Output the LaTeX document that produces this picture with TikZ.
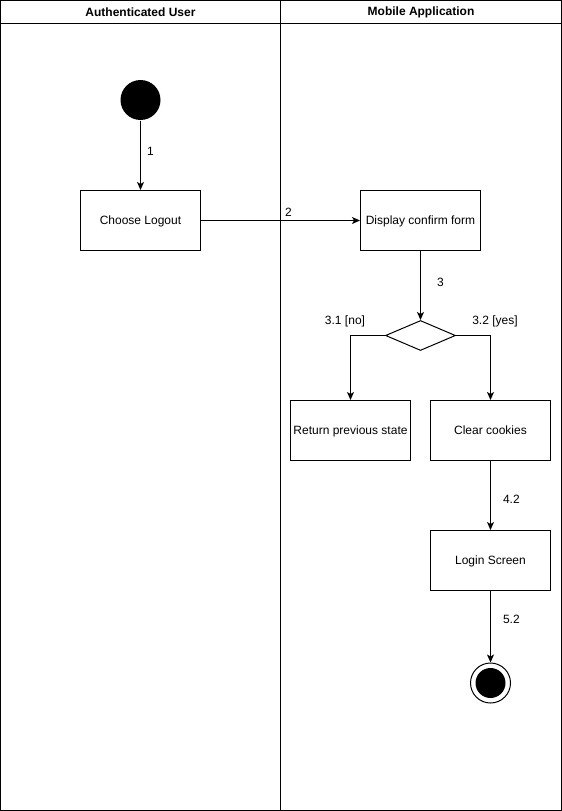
\documentclass[tikz,border=0pt]{standalone}
\usepackage{fontspec}
\setmainfont{Liberation Sans}
\usetikzlibrary{arrows.meta,shapes.geometric}
\begin{document}
\begin{tikzpicture}[x=1pt,y=-1pt,
  line width=1pt,
  every node/.style={font=\fontsize{12}{14}\selectfont},
  actbox/.style={draw,rectangle,minimum width=120pt,minimum height=60pt,inner sep=0pt,text depth=-1pt},
  decision/.style={draw,diamond,aspect=2.33,minimum width=70pt,minimum height=30pt,inner sep=0pt},
  flow/.style={-{Stealth[length=8pt,width=7pt,inset=2pt]}},
  elabel/.style={font=\fontsize{12}{14}\selectfont,inner sep=0pt},
  lanehead/.style={font=\bfseries\fontsize{12}{14}\selectfont}
]
\useasboundingbox (0,0) rectangle (562,811);
\fill[white] (0,0) rectangle (562,811);

% swimlanes
\draw (0.5,0.5) rectangle (561.5,810.5);
\draw (0.5,23.5) -- (561.5,23.5);
\draw (280.5,0.5) -- (280.5,810.5);
\node[lanehead] (laneU) at (140.5,12.5) {Authenticated User};
\node[lanehead] (laneM) at (421,12.5) {Mobile Application};

% nodes
\node[circle,fill=black,minimum size=40pt,inner sep=0pt] (start) at (140.5,100) {};
\node[actbox] (choose) at (140.5,220.5) {Choose Logout};
\node[actbox] (confirm) at (420.5,220.5) {Display confirm form};
\node[decision] (dec) at (420.5,335.5) {};
\node[actbox] (ret) at (350.5,430.5) {Return previous state};
\node[actbox] (clear) at (490.5,430.5) {Clear cookies};
\node[actbox] (login) at (490.5,560.5) {Login Screen};
\node[circle,draw,line width=1pt,minimum size=40pt,inner sep=0pt] (final) at (490.5,683) {};
\node[circle,fill=black,minimum size=30pt,inner sep=0pt] (finalin) at (final.center) {};

% transitions
\draw[flow] (start) -- node[elabel,right=6pt,pos=0.45] {1} (choose);
\draw[flow] (choose) -- node[elabel,above=4pt,pos=0.55] {2} (confirm);
\draw[flow] (confirm) -- node[elabel,right=16pt,pos=0.45] {3} (dec);
\draw[flow] (dec.west) -| (ret.north);
\draw[flow] (dec.east) -| (clear.north);
\node[elabel] (no) at (345,321) {3.1 [no]};
\node[elabel] (yes) at (495,321) {3.2 [yes]};
\draw[flow] (clear) -- node[elabel,right=12pt,pos=0.55] {4.2} (login);
\draw[flow] (login) -- node[elabel,right=12pt,pos=0.4] {5.2} (final);
\end{tikzpicture}
\end{document}
